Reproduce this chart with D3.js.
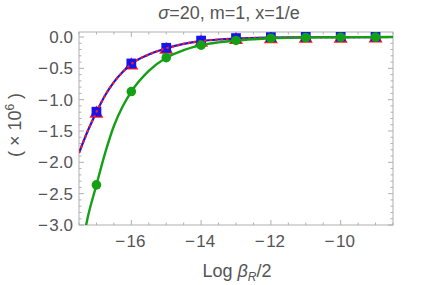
<!DOCTYPE html>
<html>
<head>
<meta charset="utf-8">
<script src="https://cdn.jsdelivr.net/npm/d3@7"></script>
<style>
  body { margin: 0; background: #fff; }
  text { font-family: "Liberation Sans", Arial, sans-serif; fill: #555; }
</style>
</head>
<body>
<div id="chart"></div>
<script>
const WIDTH = 425;
const HEIGHT = 285;

// points (markers)
const pointX = [-17, -16, -15, -14, -13, -12, -11, -10, -9];
const blueSquares = [-1.20, -0.43, -0.18, -0.065, -0.025, -0.01, -0.004, -0.002, -0.001];
const redTriangles = [-1.20, -0.43, -0.18, -0.065, -0.025, -0.01, -0.004, -0.002, -0.001];
const greenCircles = [-2.36, -0.87, -0.33, -0.13, -0.055, -0.02, -0.008, -0.003, -0.001];

// curves
const blueCurveX = [-17.5, -17.25, -17, -16.75, -16.5, -16.25, -16, -15.5, -15, -14.5, -14, -13.5, -13, -12, -11, -10, -8.5];
const blueCurveY = [-1.85, -1.50, -1.20, -0.93, -0.72, -0.56, -0.43, -0.28, -0.18, -0.11, -0.065, -0.04, -0.025, -0.01, -0.004, -0.002, 0];
const greenCurveX = [-17.4, -17.25, -17, -16.75, -16.5, -16.25, -16, -15.5, -15, -14.5, -14, -13.5, -13, -12.5, -12, -11, -10, -8.5];
const greenCurveY = [-3.3, -2.88, -2.36, -1.85, -1.42, -1.11, -0.87, -0.54, -0.33, -0.21, -0.13, -0.085, -0.055, -0.035, -0.02, -0.008, -0.003, 0];

const xMajor = [-16, -14, -12, -10];
const yMajor = [0, -0.5, -1, -1.5, -2, -2.5, -3];

const margin = {left: 79, right: 32, top: 32, bottom: 60};

const svg = d3.select("#chart").append("svg")
  .attr("width", WIDTH)
  .attr("height", HEIGHT);

const x = d3.scaleLinear().domain([-17.5, -8.5]).range([margin.left, WIDTH - margin.right]);
const y = d3.scaleLinear().domain([-3, 0.08]).range([HEIGHT - margin.bottom, margin.top]);

const frameColor = "#b0b0b0";

// clip
svg.append("clipPath").attr("id", "clip")
  .append("rect")
  .attr("x", margin.left).attr("y", margin.top)
  .attr("width", x.range()[1] - x.range()[0])
  .attr("height", y.range()[0] - y.range()[1]);

// frame
svg.append("rect")
  .attr("x", margin.left).attr("y", margin.top)
  .attr("width", x.range()[1] - x.range()[0])
  .attr("height", y.range()[0] - y.range()[1])
  .attr("fill", "none").attr("stroke", frameColor).attr("stroke-width", 1);

// ticks: major and minor on all four sides, pointing inward
const xMinor = d3.range(-17.5, -8.49, 0.5).filter(v => !xMajor.includes(v));
const yMinor = d3.range(-3, 0.001, 0.1).map(v => Math.round(v * 10) / 10).filter(v => !yMajor.includes(v));

const ticks = svg.append("g").attr("stroke", frameColor).attr("stroke-width", 1);
function xTicks(vals, len) {
  vals.forEach(v => {
    ticks.append("line").attr("x1", x(v)).attr("x2", x(v)).attr("y1", y.range()[0]).attr("y2", y.range()[0] - len);
    ticks.append("line").attr("x1", x(v)).attr("x2", x(v)).attr("y1", y.range()[1]).attr("y2", y.range()[1] + len);
  });
}
function yTicks(vals, len) {
  vals.forEach(v => {
    ticks.append("line").attr("y1", y(v)).attr("y2", y(v)).attr("x1", x.range()[0]).attr("x2", x.range()[0] + len);
    ticks.append("line").attr("y1", y(v)).attr("y2", y(v)).attr("x1", x.range()[1]).attr("x2", x.range()[1] - len);
  });
}
xTicks(xMajor, 5); xTicks(xMinor, 2.5);
yTicks(yMajor, 5); yTicks(yMinor, 2.5);

// tick labels: wide minus like the original
function tickText(sel, num) {
  sel.each(function(d) {
    const t = d3.select(this);
    if (d < 0) {
      t.append("tspan").text("\u2212");
      t.append("tspan").attr("dx", 1.5).text(num(Math.abs(d)));
    } else {
      t.append("tspan").text(num(d));
    }
  });
}

svg.append("g").selectAll("text").data(xMajor).join("text")
  .attr("x", d => x(d) - 1).attr("y", y.range()[0] + 22)
  .attr("text-anchor", "middle").attr("font-size", 17)
  .call(tickText, v => String(v));

svg.append("g").selectAll("text").data(yMajor).join("text")
  .attr("x", margin.left - 6).attr("y", d => y(d) + 6)
  .attr("text-anchor", "end").attr("font-size", 17)
  .call(tickText, v => v.toFixed(1));

// title
const title = svg.append("text")
  .attr("x", 229).attr("y", 19)
  .attr("text-anchor", "middle").attr("font-size", 18);
title.append("tspan").attr("font-style", "italic").text("\u03c3");
title.append("tspan").text("=20, m=1, x=1/e");

// axis labels
const xl = svg.append("text")
  .attr("x", 237).attr("y", 277)
  .attr("text-anchor", "middle").attr("font-size", 18);
xl.append("tspan").text("Log ");
xl.append("tspan").attr("font-style", "italic").text("\u03b2");
xl.append("tspan").attr("font-style", "italic").attr("font-size", 12).attr("dy", 4).text("R");
xl.append("tspan").attr("dy", -4).text("/2");

const yl = svg.append("text")
  .attr("transform", "translate(21,125) rotate(-90)")
  .attr("text-anchor", "middle").attr("font-size", 18);
yl.append("tspan").text("( \u00d7 10");
yl.append("tspan").attr("font-size", 12).attr("dy", -7).text("6");
yl.append("tspan").attr("dy", 7).text(" )");

const plot = svg.append("g").attr("clip-path", "url(#clip)");

const line = d3.line().x(d => x(d[0])).y(d => y(d[1])).curve(d3.curveMonotoneX);

const blueData = d3.zip(blueCurveX, blueCurveY);
const greenData = d3.zip(greenCurveX, greenCurveY);

// markers: triangles, then squares
const triSym = d3.symbol(d3.symbolTriangle, 85);
const sqSym = d3.symbol(d3.symbolSquare, 95);

plot.append("g").selectAll("path").data(d3.zip(pointX, redTriangles)).join("path")
  .attr("d", triSym)
  .attr("transform", d => `translate(${x(d[0])},${y(d[1]) + 1.5})`)
  .attr("fill", "#ff1a1a");

plot.append("g").selectAll("path").data(d3.zip(pointX, blueSquares)).join("path")
  .attr("d", sqSym)
  .attr("transform", d => `translate(${x(d[0])},${y(d[1]) - 0.5})`)
  .attr("fill", "#1414ee");

// curves
plot.append("path").datum(blueData).attr("d", line)
  .attr("fill", "none").attr("stroke", "#1414ee").attr("stroke-width", 2.2);
plot.append("path").datum(blueData).attr("d", line)
  .attr("fill", "none").attr("stroke", "#ff1a1a").attr("stroke-width", 2.2)
  .attr("stroke-dasharray", "2.5,3");
plot.append("path").datum(greenData).attr("d", line)
  .attr("fill", "none").attr("stroke", "#14a014").attr("stroke-width", 2.4);

plot.append("g").selectAll("circle").data(d3.zip(pointX, greenCircles)).join("circle")
  .attr("cx", d => x(d[0])).attr("cy", d => y(d[1]))
  .attr("r", 4.8)
  .attr("fill", "#14a014");
</script>
</body>
</html>
